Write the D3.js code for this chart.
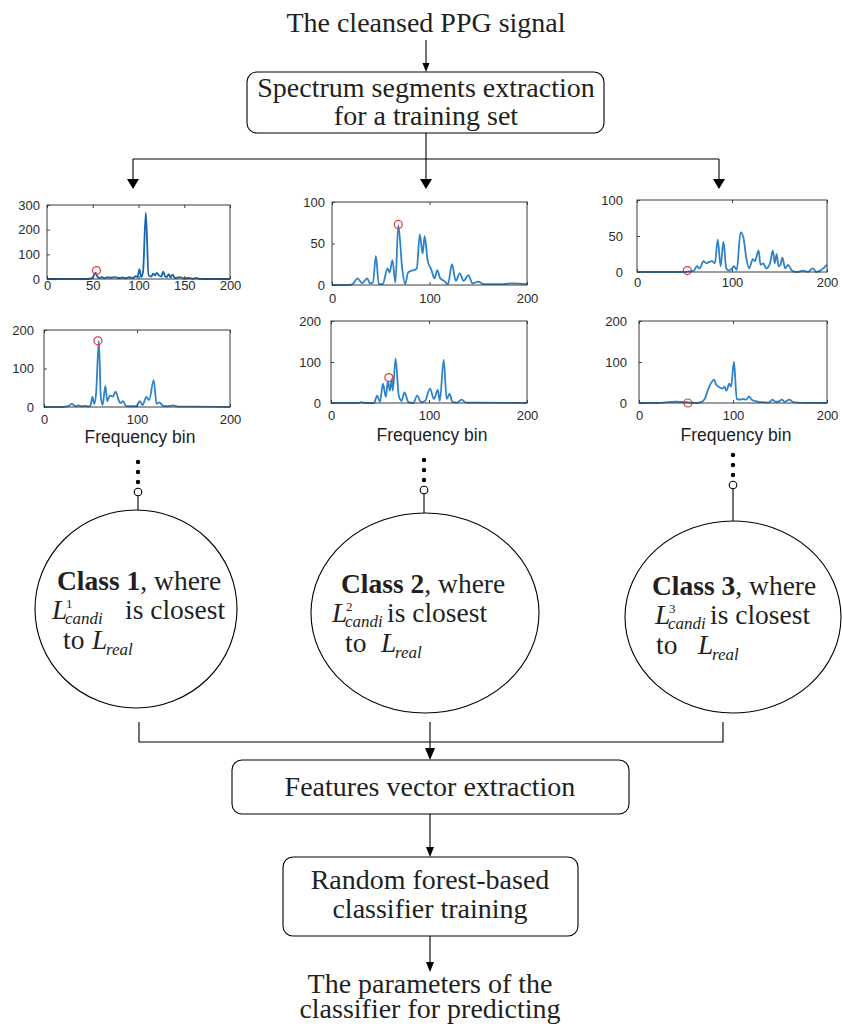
<!DOCTYPE html>
<html>
<head>
<meta charset="utf-8">
<script src="https://cdn.jsdelivr.net/npm/d3@7"></script>
<style>
  body { margin: 0; background: #fff; }
  svg { display: block; }
</style>
</head>
<body>
<svg id="fig" width="842" height="1028"></svg>
<script>
// ---- spectrum data (frequency bin, amplitude) ----
const bins1 = [0, 20, 40, 47, 50, 53, 55, 57, 60, 63, 66, 70, 74, 78, 82, 86, 90, 94, 97, 99, 101, 103, 105, 108, 111, 114, 116, 118, 120, 122, 125, 127, 129, 131, 133, 135, 137, 140, 145, 150, 155, 160, 163, 166, 175, 200];
const amp1  = [0, 0, 0, 1, 6, 26, 10, 4, 8, 3, 7, 5, 8, 4, 6, 3, 7, 4, 12, 8, 40, 8, 30, 269, 15, 10, 22, 14, 25, 16, 10, 30, 12, 8, 20, 6, 18, 4, 8, 2, 4, 1, 4, 1, 0, 0];

const bins2 = [0, 20, 26, 30, 34, 37, 40, 44, 48, 50, 52, 54, 56, 59, 61, 63, 66, 68, 71, 74, 77, 80, 82, 85, 88, 92, 99, 103, 106, 110, 113, 118, 121, 124, 128, 133, 139, 145, 160, 200];
const amp2  = [0, 0, 2, 8, 2, 4, 2, 3, 1, 4, 26, 8, 35, 172, 30, 5, 55, 15, 30, 27, 40, 20, 10, 15, 3, 2, 2, 15, 5, 26, 18, 70, 8, 12, 3, 2, 4, 1, 1, 0];

const bins3 = [0, 18, 22, 26, 31, 36, 39, 42, 45, 48, 52, 57, 59, 62, 65, 68, 72, 75, 78, 81, 84, 87, 90, 93, 95, 98, 102, 105, 108, 111, 115, 119, 123, 127, 131, 135, 140, 144, 150, 156, 165, 175, 185, 200];
const amp3  = [0, 0, 2, 8, 2, 8, 2, 3, 35, 1, 1, 20, 15, 30, 3, 72, 20, 1, 15, 17, 18, 20, 61, 38, 59, 30, 18, 8, 18, 8, 5, 1, 25, 5, 14, 5, 12, 2, 4, 1, 1, 1, 2, 1];

const bins4 = [0, 28, 31, 34, 44, 47, 50, 53, 56, 58, 60, 62, 63, 66, 69, 72, 75, 79, 84, 88, 92, 96, 101, 105, 109, 111, 115, 118, 121, 124, 129, 133, 138, 150, 200];
const amp4  = [0, 0, 2, 0, 0, 18, 3, 47, 15, 53, 30, 58, 30, 108, 20, 5, 26, 2, 0, 18, 2, 5, 35, 10, 32, 5, 105, 10, 22, 2, 1, 8, 1, 1, 0];

const bins5 = [0, 50, 56, 60, 63, 66, 70, 73, 76, 79, 82, 85, 88, 91, 94, 97, 100, 102, 105, 109, 112, 115, 118, 122, 124, 128, 130, 133, 136, 140, 143, 145, 147, 149, 151, 153, 156, 159, 163, 168, 175, 180, 185, 189, 195, 200];
const amp5  = [0, 0, 1, 2, 8, 5, 15, 12, 14, 15, 12, 45, 8, 42, 5, 2, 5, 8, 3, 55, 48, 20, 5, 18, 15, 30, 10, 12, 5, 12, 30, 12, 25, 8, 10, 20, 5, 10, 2, 0, 2, 0, 5, 0, 4, 10];

const bins6 = [0, 20, 30, 40, 50, 55, 61, 66, 70, 73, 77, 80, 82, 86, 89, 91, 93, 96, 98, 101, 104, 107, 111, 114, 117, 120, 123, 127, 132, 138, 142, 145, 148, 152, 155, 160, 164, 169, 200];
const amp6  = [0, 0, 2, 3, 2, 1, 0, 2, 10, 30, 50, 57, 45, 38, 35, 40, 30, 47, 40, 101, 10, 8, 10, 8, 16, 8, 5, 3, 2, 1, 8, 3, 3, 8, 3, 8, 2, 1, 0];

// red circles: the candidate peak marked in each spectrum
const candBins = [54, 58, 68, 59, 53, 52];
const candAmps = [34, 172, 73, 62, 2, 0];

// tick labels
const yTicks1 = [0, 100, 200, 300];
const yTicks2 = [0, 100, 200];
const yTicks3 = [0, 50, 100];
const yTicks4 = [0, 100, 200];
const yTicks5 = [0, 50, 100];
const yTicks6 = [0, 100, 200];
const xTicksFine = [0, 50, 100, 150, 200];
const xTicksCoarse = [0, 100, 200];
const xLabel = 'Frequency bin';

// flowchart texts
const titleText = 'The cleansed PPG signal';
const box1Lines = ['Spectrum segments extraction', 'for a training set'];
const box2Lines = ['Features vector extraction'];
const box3Lines = ['Random forest-based', 'classifier training'];
const outputLines = ['The parameters of the', 'classifier for predicting'];
const classNames = ['Class 1', 'Class 2', 'Class 3'];
const classSup = ['1', '2', '3'];

// ---- layout (pixels) ----
const panels = [
  {left: 47,  right: 230, top: 205, bottom: 279, xPad: 1.5, yPad: 7,  freqY: null},
  {left: 44,  right: 230, top: 330, bottom: 407, xPad: 8,   yPad: 10, freqY: 443},
  {left: 332, right: 527, top: 202, bottom: 285, xPad: 9,   yPad: 7,  freqY: null},
  {left: 331, right: 527, top: 321, bottom: 403, xPad: 8,   yPad: 10, freqY: 441},
  {left: 637, right: 827, top: 200, bottom: 272, xPad: 6,   yPad: 14, freqY: null},
  {left: 639, right: 827, top: 321, bottom: 403, xPad: 8,   yPad: 12, freqY: 441}
];

const serif = '"Liberation Serif", "Times New Roman", serif';
const sans = '"Liberation Sans", Arial, sans-serif';
const ink = '#231f20';

const svg = d3.select('#fig');

// ---- spectrum panels ----
const allBins = [bins1, bins2, bins3, bins4, bins5, bins6];
const allAmps = [amp1, amp2, amp3, amp4, amp5, amp6];
const allYTicks = [yTicks1, yTicks2, yTicks3, yTicks4, yTicks5, yTicks6];
const allXTicks = [xTicksFine, xTicksCoarse, xTicksCoarse, xTicksCoarse, xTicksCoarse, xTicksCoarse];

panels.forEach((p, i) => {
  const x = d3.scaleLinear().domain([0, 200]).range([p.left, p.right]);
  const y = d3.scaleLinear().domain([0, d3.max(allYTicks[i])]).range([p.bottom, p.top]);
  const g = svg.append('g');

  const pts = allBins[i].map((b, k) => [b, allAmps[i][k]]);
  g.append('path')
    .datum(pts)
    .attr('fill', 'none')
    .attr('stroke', i === 0 ? '#1565b0' : '#2f82c6')
    .attr('stroke-width', 1.8)
    .attr('stroke-linejoin', 'round')
    .attr('d', d3.line().x(d => x(d[0])).y(d => y(d[1])).curve(d3.curveMonotoneX));

  g.append('circle')
    .attr('cx', x(candBins[i]))
    .attr('cy', y(candAmps[i]))
    .attr('r', 4)
    .attr('fill', 'none')
    .attr('stroke', '#e0393e')
    .attr('stroke-width', 1.2);

  // axes, ticks pointing inwards (matlab style)
  const styleAxis = sel => {
    sel.attr('font-family', sans).attr('font-size', 13);
    sel.select('.domain').remove();
    sel.selectAll('line').attr('stroke', '#444');
    sel.selectAll('text').attr('fill', '#2a2a2a');
  };
  g.append('g')
    .attr('transform', `translate(0,${p.bottom})`)
    .call(d3.axisBottom(x).tickValues(allXTicks[i]).tickSizeInner(-3).tickSizeOuter(0).tickPadding(p.xPad))
    .call(styleAxis);
  g.append('g')
    .attr('transform', `translate(${p.left},0)`)
    .call(d3.axisLeft(y).tickValues(allYTicks[i]).tickSizeInner(-3).tickSizeOuter(0).tickPadding(p.yPad))
    .call(styleAxis);
  g.append('g')
    .attr('transform', `translate(0,${p.top})`)
    .call(d3.axisTop(x).tickValues(allXTicks[i]).tickSizeInner(-3).tickSizeOuter(0).tickFormat(''))
    .call(styleAxis);

  g.append('rect')
    .attr('x', p.left).attr('y', p.top)
    .attr('width', p.right - p.left).attr('height', p.bottom - p.top)
    .attr('fill', 'none')
    .attr('stroke', '#3a3a3a')
    .attr('stroke-width', 1);

  if (p.freqY) {
    g.append('text')
      .attr('x', (p.left + p.right) / 2 + 3)
      .attr('y', p.freqY)
      .attr('text-anchor', 'middle')
      .attr('font-family', sans)
      .attr('font-size', 17.5)
      .attr('fill', '#222')
      .text(xLabel);
  }
});

// ---- flowchart helpers ----
function line(x1, y1, x2, y2) {
  svg.append('line')
    .attr('x1', x1).attr('y1', y1).attr('x2', x2).attr('y2', y2)
    .attr('stroke', '#000').attr('stroke-width', 1.1);
}

function arrowDown(x, y1, y2, w, h) {
  line(x, y1, x, y2 - h + 1);
  svg.append('path')
    .attr('d', `M${x - w / 2},${y2 - h} L${x + w / 2},${y2 - h} L${x},${y2} Z`)
    .attr('fill', '#000');
}

function box(x1, y1, x2, y2) {
  svg.append('rect')
    .attr('x', x1).attr('y', y1)
    .attr('width', x2 - x1).attr('height', y2 - y1)
    .attr('rx', 10).attr('ry', 10)
    .attr('fill', 'none')
    .attr('stroke', '#000')
    .attr('stroke-width', 1.1);
}

function centered(lines, cx, y0, dy) {
  lines.forEach((t, k) => {
    svg.append('text')
      .attr('x', cx).attr('y', y0 + k * dy)
      .attr('text-anchor', 'middle')
      .attr('font-family', serif)
      .attr('font-size', 28)
      .attr('fill', ink)
      .text(t);
  });
}

// ---- top of the flow ----
centered([titleText], 426, 32, 0);
arrowDown(426, 40, 72, 7, 9);
box(247, 72, 604, 133);
centered(box1Lines, 426, 97, 28);

line(426, 133, 426, 159);
line(133, 159, 719, 159);
[133, 426, 719].forEach(cx => arrowDown(cx, 159, 189, 12, 10));

// ---- dots, small circles and class ellipses ----
const columns = [
  {x: 138, dotY: 462, ex: 136, ey: 609, rx: 101, ry: 99,  tx: 57,  l2x: 52,  isx: 125, tox: 63,  lrx: 92,  by: 590},
  {x: 424, dotY: 460, ex: 425, ey: 613, rx: 114, ry: 100, tx: 341, l2x: 332, isx: 387, tox: 345, lrx: 381, by: 593},
  {x: 733, dotY: 455, ex: 733, ey: 617, rx: 108, ry: 96,  tx: 652, l2x: 655, isx: 710, tox: 656, lrx: 698, by: 595}
];

columns.forEach((c, i) => {
  [0, 10, 20].forEach(d => {
    svg.append('circle').attr('cx', c.x).attr('cy', c.dotY + d).attr('r', 2.2).attr('fill', '#000');
  });
  const cy = c.dotY + 30;
  svg.append('circle').attr('cx', c.x).attr('cy', cy).attr('r', 3.8)
    .attr('fill', '#fff').attr('stroke', '#000').attr('stroke-width', 1.1);
  line(c.x, cy + 3.8, c.x, c.ey - c.ry);

  svg.append('ellipse')
    .attr('cx', c.ex).attr('cy', c.ey).attr('rx', c.rx).attr('ry', c.ry)
    .attr('fill', 'none').attr('stroke', '#000').attr('stroke-width', 1.1);

  // line 1: bold class name
  const t1 = svg.append('text')
    .attr('x', c.tx).attr('y', c.by)
    .attr('font-family', serif).attr('font-size', 27.5).attr('fill', ink);
  t1.append('tspan').attr('font-weight', 'bold').text(classNames[i]);
  t1.append('tspan').text(', where');

  // line 2: L^k_candi is closest
  const y2 = c.by + 29;
  svg.append('text')
    .attr('x', c.l2x).attr('y', y2)
    .attr('font-family', serif).attr('font-size', 27.5).attr('font-style', 'italic').attr('fill', ink)
    .text('L');
  svg.append('text')
    .attr('x', c.l2x + 14).attr('y', y2 - 11)
    .attr('font-family', serif).attr('font-size', 13).attr('fill', ink)
    .text(classSup[i]);
  svg.append('text')
    .attr('x', c.l2x + 13).attr('y', y2 + 5)
    .attr('font-family', serif).attr('font-size', 17).attr('font-style', 'italic').attr('fill', ink)
    .text('candi');
  svg.append('text')
    .attr('x', c.isx).attr('y', y2)
    .attr('font-family', serif).attr('font-size', 27.5).attr('fill', ink)
    .text('is closest');

  // line 3: to L_real
  const y3 = y2 + 30;
  svg.append('text')
    .attr('x', c.tox).attr('y', y3)
    .attr('font-family', serif).attr('font-size', 27.5).attr('fill', ink)
    .text('to');
  svg.append('text')
    .attr('x', c.lrx).attr('y', y3)
    .attr('font-family', serif).attr('font-size', 27.5).attr('font-style', 'italic').attr('fill', ink)
    .text('L');
  svg.append('text')
    .attr('x', c.lrx + 14).attr('y', y3 + 6)
    .attr('font-family', serif).attr('font-size', 17).attr('font-style', 'italic').attr('fill', ink)
    .text('real');
});

// ---- bottom of the flow ----
svg.append('path')
  .attr('d', 'M139,722 V742 H723 V722')
  .attr('fill', 'none').attr('stroke', '#000').attr('stroke-width', 1.1);
arrowDown(430, 722, 760, 10, 12);
box(232, 760, 629, 814);
centered(box2Lines, 430, 796, 0);

arrowDown(430, 814, 857, 8, 10);
box(283, 857, 578, 936);
centered(box3Lines, 430, 889, 29);

arrowDown(430, 936, 972, 8, 10);
centered(outputLines, 430, 993, 25);
</script>
</body>
</html>
